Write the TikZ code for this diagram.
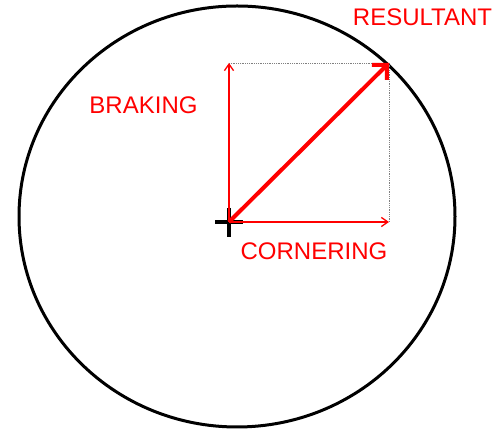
\documentclass[tikz,border=0pt]{standalone}
\usepackage{fontspec}
\setmainfont{Liberation Sans}
\usepackage{xcolor}
\usepackage{tikz}
\usetikzlibrary{arrows.meta,positioning,calc}

\begin{document}
\begin{tikzpicture}[x=1pt,y=1pt,>={Straight Barb[angle=70:8pt]},
  every node/.style={font=\fontsize{24}{28}\selectfont,text=red,inner sep=0pt},
  force/.style={red,line width=1.3pt,->},
  guide/.style={gray,line width=.8pt,densely dotted}]
\useasboundingbox (0,0) rectangle (501,430);
\draw[black,line width=3pt] (237,213.5) ellipse [x radius=218,y radius=210.5];
\coordinate (O) at (229,208);
\coordinate (C) at (389,208);
\coordinate (B) at (229,367);
\coordinate (R) at (389,367);
\draw[guide] (B)--(R);
\draw[guide] (C)--(R);
\draw[black,line width=3.2pt] ($(O)+(-14,0)$)--($(O)+(14,0)$);
\draw[black,line width=3.2pt] ($(O)+(0,14)$)--($(O)+(0,-15)$);
\draw[force] (O)--(C);
\draw[force] (O)--(B);
\draw[red,line width=4pt,-{Straight Barb[angle=90:15pt]}] (O)--(R);
\node (resultant) at (422.5,412.5) {RESULTANT};
\node (braking) at (143.5,325) {BRAKING};
\node (cornering) at (314,178.5) {CORNERING};
\end{tikzpicture}
\end{document}
